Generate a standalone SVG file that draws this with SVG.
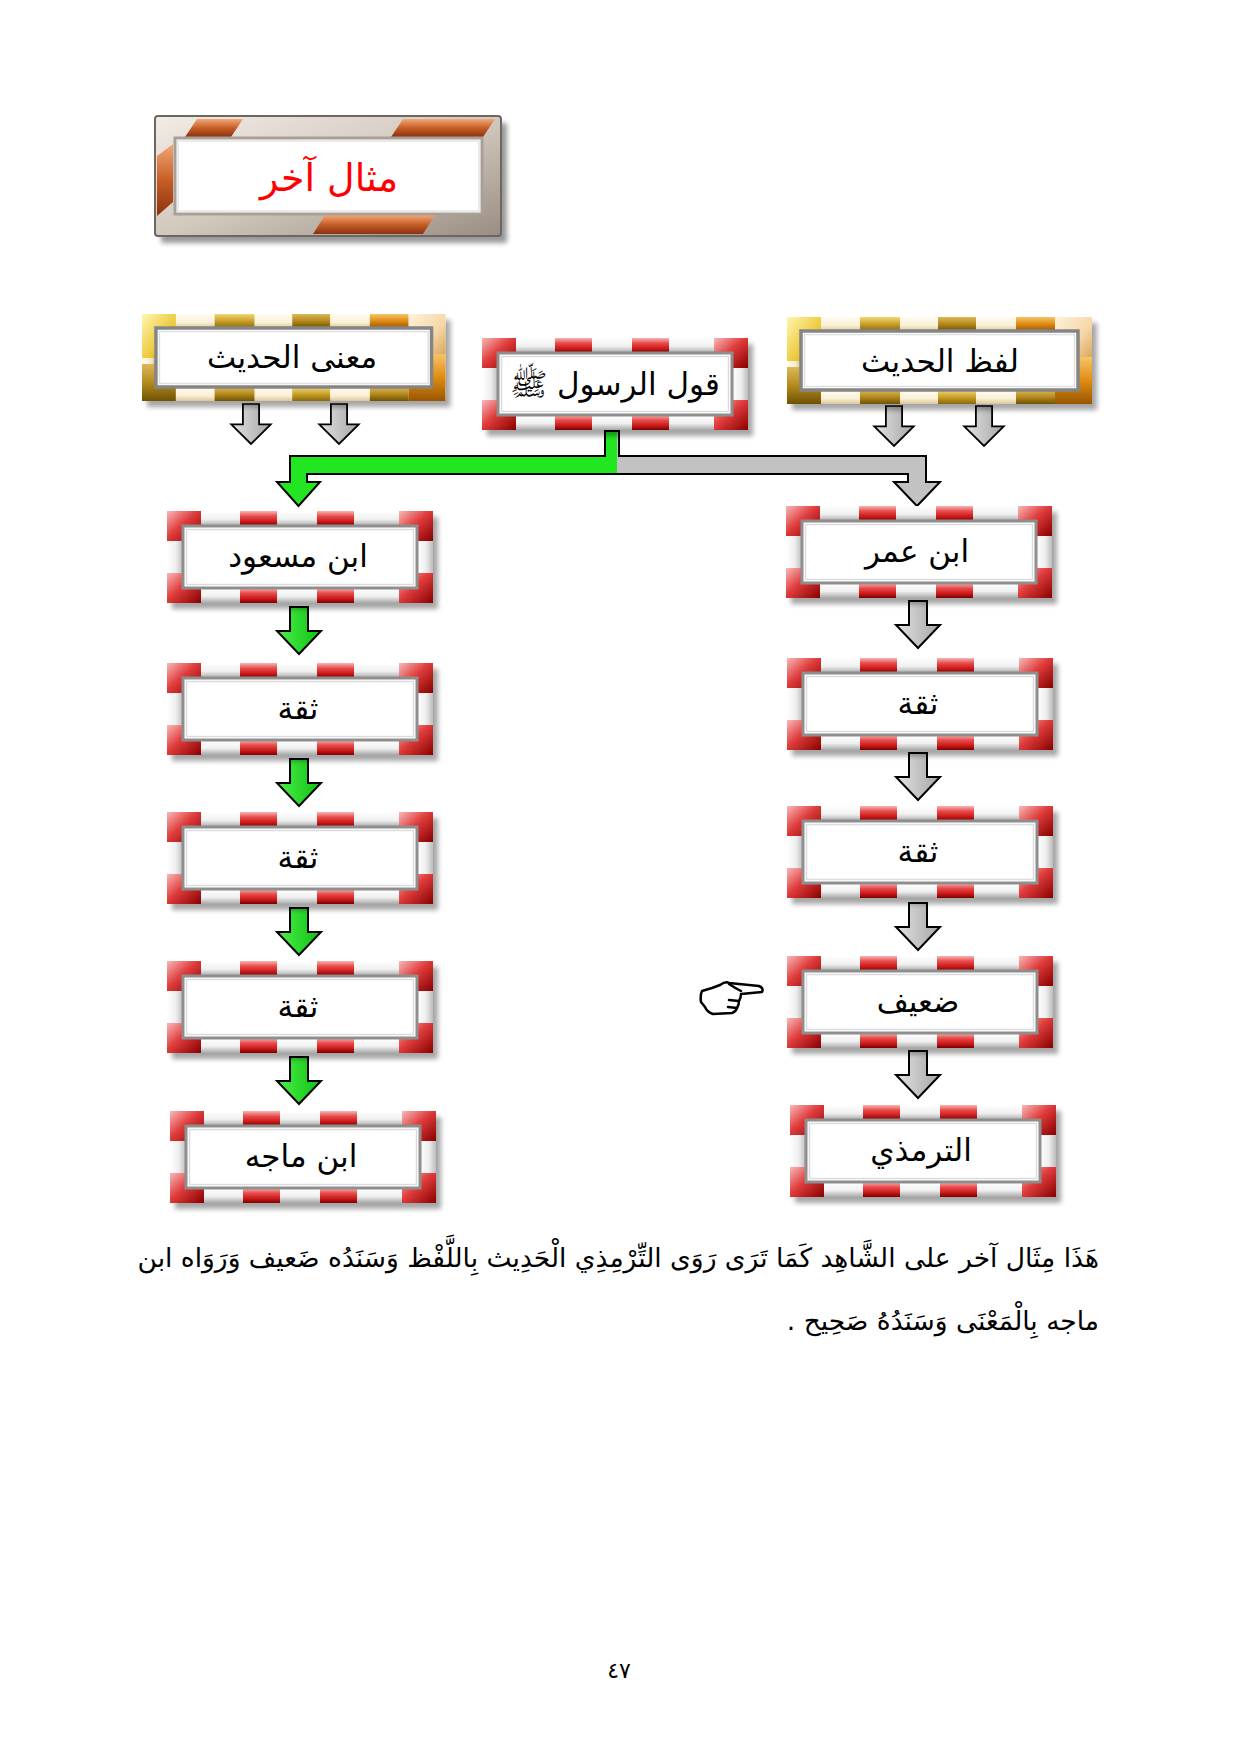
<svg xmlns="http://www.w3.org/2000/svg" xmlns:xlink="http://www.w3.org/1999/xlink" width="1240" height="1754" viewBox="0 0 1240 1754">
<style>
.lbl{font-family:"DejaVu Sans",sans-serif;font-size:31px;fill:#000;text-anchor:middle}
.para{font-family:"DejaVu Sans",sans-serif;font-size:26.5px;fill:#000}
.arw{stroke:#000;stroke-width:2;stroke-linejoin:miter}
</style>
<defs>
<filter id="sh" x="-10%" y="-15%" width="130%" height="140%"><feGaussianBlur stdDeviation="2.5"/></filter>
<linearGradient id="rv" x1="0" y1="0" x2="0" y2="1"><stop offset="0" stop-color="#f9b4b4"/><stop offset=".35" stop-color="#e84a4a"/><stop offset=".7" stop-color="#cc1a1a"/><stop offset="1" stop-color="#7a0000"/></linearGradient>
<linearGradient id="rc" x1="0" y1="0" x2="1" y2="1"><stop offset="0" stop-color="#f8b8b8"/><stop offset=".45" stop-color="#e03c3c"/><stop offset="1" stop-color="#880000"/></linearGradient>
<linearGradient id="wv" x1="0" y1="0" x2="0" y2="1"><stop offset="0" stop-color="#ffffff"/><stop offset=".55" stop-color="#f0f0f0"/><stop offset="1" stop-color="#a8a8a8"/></linearGradient>
<linearGradient id="wh" x1="0" y1="0" x2="1" y2="0"><stop offset="0" stop-color="#ffffff"/><stop offset=".55" stop-color="#eeeeee"/><stop offset="1" stop-color="#bcbcbc"/></linearGradient>
<linearGradient id="cv" x1="0" y1="0" x2="0" y2="1"><stop offset="0" stop-color="#fffbf2"/><stop offset=".6" stop-color="#fbf0d6"/><stop offset="1" stop-color="#d9c69a"/></linearGradient>
<linearGradient id="ch" x1="0" y1="0" x2="1" y2="0"><stop offset="0" stop-color="#fffbf2"/><stop offset=".6" stop-color="#f7ead0"/><stop offset="1" stop-color="#d6c293"/></linearGradient>
<linearGradient id="gg" x1="0" y1="0" x2="0" y2="1"><stop offset="0" stop-color="#f2d774"/><stop offset=".5" stop-color="#caa02a"/><stop offset="1" stop-color="#8a6808"/></linearGradient>
<linearGradient id="gd" x1="0" y1="0" x2="0" y2="1"><stop offset="0" stop-color="#dcb85a"/><stop offset=".5" stop-color="#b48a1c"/><stop offset="1" stop-color="#6e5204"/></linearGradient>
<linearGradient id="go" x1="0" y1="0" x2="0" y2="1"><stop offset="0" stop-color="#f7c468"/><stop offset=".5" stop-color="#e08c14"/><stop offset="1" stop-color="#985600"/></linearGradient>
<linearGradient id="gy" x1="0" y1="0" x2="1" y2="1"><stop offset="0" stop-color="#fff6b0"/><stop offset=".6" stop-color="#ecc838"/><stop offset="1" stop-color="#b08a10"/></linearGradient>
<linearGradient id="gc" x1="0" y1="0" x2="1" y2="1"><stop offset="0" stop-color="#fff2dc"/><stop offset=".6" stop-color="#f5d6a6"/><stop offset="1" stop-color="#d8a860"/></linearGradient>
<linearGradient id="sv" x1="0" y1="0" x2="1" y2="1"><stop offset="0" stop-color="#f2ece6"/><stop offset=".5" stop-color="#d2c8be"/><stop offset="1" stop-color="#9a8e84"/></linearGradient>
<linearGradient id="cu" x1="0" y1="0" x2="0" y2="1"><stop offset="0" stop-color="#f0a878"/><stop offset=".5" stop-color="#c85e26"/><stop offset="1" stop-color="#8a3210"/></linearGradient>
<linearGradient id="ag" x1="0" y1="0" x2="1" y2="0"><stop offset="0" stop-color="#e2e2e2"/><stop offset="1" stop-color="#a6a6a6"/></linearGradient>
<linearGradient id="agr" x1="0" y1="0" x2="1" y2="0"><stop offset="0" stop-color="#4cf04c"/><stop offset="1" stop-color="#10c010"/></linearGradient>
<linearGradient id="cg" gradientUnits="userSpaceOnUse" x1="290" y1="0" x2="926" y2="0"><stop offset="0" stop-color="#22e622"/><stop offset=".514" stop-color="#22e622"/><stop offset=".514" stop-color="#c2c2c2"/><stop offset="1" stop-color="#c2c2c2"/></linearGradient>
<path id="ar" d="M-9,0 H9 V24 H22 L0,47 L-22,24 H-9 Z"/>

<g id="rf">
<rect x="5" y="6" width="266" height="92" fill="#000" opacity=".35" filter="url(#sh)"/>
<rect x="0" y="0" width="266" height="92" fill="#f4f4f4"/>
<rect x="0" y="0" width="266" height="15" fill="url(#wv)"/>
<rect x="0" y="77" width="266" height="15" fill="url(#wv)"/>
<rect x="0" y="15" width="16" height="62" fill="url(#wh)"/>
<rect x="250" y="15" width="16" height="62" fill="url(#wh)"/>
<rect x="73" y="0" width="37" height="15" fill="url(#rv)"/>
<rect x="150" y="0" width="37" height="15" fill="url(#rv)"/>
<rect x="73" y="77" width="37" height="15" fill="url(#rv)"/>
<rect x="150" y="77" width="37" height="15" fill="url(#rv)"/>
<path d="M0,0 H34 V15 H16 V30 H0 Z" fill="url(#rc)"/>
<path d="M232,0 H266 V30 H250 V15 H232 Z" fill="url(#rc)"/>
<path d="M0,62 H16 V77 H34 V92 H0 Z" fill="url(#rc)"/>
<path d="M250,62 H266 V92 H232 V77 H250 Z" fill="url(#rc)"/>
<rect x="16" y="15" width="234" height="62" fill="#fff" stroke="#8e8e8e" stroke-width="3"/>
<rect x="19.5" y="18.5" width="227" height="55" fill="none" stroke="#dcdcdc" stroke-width="1.5"/>
</g>

<g id="gf">
<rect x="5" y="6" width="305" height="87" fill="#000" opacity=".35" filter="url(#sh)"/>
<rect x="0" y="0" width="305" height="87" fill="#faf0d8"/>
<rect x="0" y="0" width="305" height="14" fill="url(#cv)"/>
<rect x="0" y="73" width="305" height="14" fill="url(#cv)"/>
<rect x="0" y="14" width="14" height="59" fill="url(#ch)"/>
<rect x="291" y="14" width="14" height="59" fill="url(#ch)"/>
<rect x="73" y="0" width="40" height="14" fill="url(#gg)"/>
<rect x="151" y="0" width="38" height="14" fill="url(#gd)"/>
<rect x="229" y="0" width="39" height="14" fill="url(#go)"/>
<rect x="73" y="73" width="40" height="14" fill="url(#gd)"/>
<rect x="151" y="73" width="38" height="14" fill="url(#gg)"/>
<rect x="229" y="73" width="39" height="14" fill="url(#gd)"/>
<path d="M0,0 H34 V14 H14 V44 H0 Z" fill="url(#gy)"/>
<path d="M268,0 H305 V40 H291 V14 H268 Z" fill="url(#gc)"/>
<path d="M0,50 H14 V73 H34 V87 H0 Z" fill="url(#gd)"/>
<path d="M291,40 H305 V87 H268 V73 H291 Z" fill="url(#go)"/>
<rect x="14" y="14" width="277" height="59" fill="#fff" stroke="#858585" stroke-width="3.5"/>
<rect x="17.5" y="17.5" width="270" height="52" fill="none" stroke="#e0e0e0" stroke-width="1.5"/>
</g>
</defs>

<rect width="1240" height="1754" fill="#fff"/>

<g id="title">
<rect x="161" y="123" width="346" height="120" fill="#000" opacity=".4" filter="url(#sh)"/>
<rect x="155" y="116" width="346" height="120" rx="3" fill="url(#sv)" stroke="#6e6660" stroke-width="2"/>
<polygon points="197,119 243,119 231,137 185,137" fill="url(#cu)"/>
<polygon points="403,119 495,119 483,137 391,137" fill="url(#cu)"/>
<polygon points="325,215 435,215 423,234 313,234" fill="url(#cu)"/>
<polygon points="157,156 173,144 173,202 157,216" fill="url(#cu)"/>
<rect x="175" y="138" width="307" height="76" fill="#fff" stroke="#a8a098" stroke-width="3"/>
<rect x="178" y="141" width="301" height="70" fill="none" stroke="#e6e2de" stroke-width="1.5"/>
<text x="329" y="191" style="font-family:'DejaVu Sans',sans-serif;font-size:38px;fill:#ff0000;text-anchor:middle">مثال آخر</text>
</g>

<g id="connectors">
<path class="arw" d="M605,431 V456 H290 V482 H277 L298.5,506 L320,482 H307 V474 H908 V482 H894 L917,506 L940,482 H926 V456 H619 V431 Z" fill="url(#cg)"/>
<use href="#ar" class="arw" fill="url(#ag)" transform="translate(251,404) scale(0.9,0.85)"/>
<use href="#ar" class="arw" fill="url(#ag)" transform="translate(339,404) scale(0.9,0.85)"/>
<use href="#ar" class="arw" fill="url(#ag)" transform="translate(894,406) scale(0.9,0.85)"/>
<use href="#ar" class="arw" fill="url(#ag)" transform="translate(984,406) scale(0.9,0.85)"/>
<use href="#ar" class="arw" fill="url(#agr)" transform="translate(299,607)"/>
<use href="#ar" class="arw" fill="url(#agr)" transform="translate(299,759)"/>
<use href="#ar" class="arw" fill="url(#agr)" transform="translate(299,908)"/>
<use href="#ar" class="arw" fill="url(#agr)" transform="translate(299,1057)"/>
<use href="#ar" class="arw" fill="url(#ag)" transform="translate(918,601)"/>
<use href="#ar" class="arw" fill="url(#ag)" transform="translate(918,753)"/>
<use href="#ar" class="arw" fill="url(#ag)" transform="translate(918,903)"/>
<use href="#ar" class="arw" fill="url(#ag)" transform="translate(918,1051)"/>
</g>

<g id="n-maana"><use href="#gf" transform="translate(142,314) scale(0.995,1)"/><text class="lbl" x="292" y="368">معنى الحديث</text></g>
<g id="n-qawl"><use href="#rf" transform="translate(482,338)"/><text class="lbl" x="615" y="395">قول الرسول ﷺ</text></g>
<g id="n-lafz"><use href="#gf" transform="translate(787,317)"/><text class="lbl" x="940" y="372">لفظ الحديث</text></g>

<g id="n-ibnmasud"><use href="#rf" transform="translate(167,511)"/><text class="lbl" x="298" y="567">ابن مسعود</text></g>
<g id="n-l1"><use href="#rf" transform="translate(167,663)"/><text class="lbl" x="298" y="719">ثقة</text></g>
<g id="n-l2"><use href="#rf" transform="translate(167,812)"/><text class="lbl" x="298" y="868">ثقة</text></g>
<g id="n-l3"><use href="#rf" transform="translate(167,961)"/><text class="lbl" x="298" y="1017">ثقة</text></g>
<g id="n-ibnmajah"><use href="#rf" transform="translate(170,1111)"/><text class="lbl" x="301" y="1167">ابن ماجه</text></g>

<g id="n-ibnumar"><use href="#rf" transform="translate(786,506)"/><text class="lbl" x="917" y="562">ابن عمر</text></g>
<g id="n-r1"><use href="#rf" transform="translate(787,658)"/><text class="lbl" x="918" y="714">ثقة</text></g>
<g id="n-r2"><use href="#rf" transform="translate(787,806)"/><text class="lbl" x="918" y="862">ثقة</text></g>
<g id="n-daif"><use href="#rf" transform="translate(787,956)"/><text class="lbl" x="918" y="1012">ضعيف</text></g>
<g id="n-tirmidhi"><use href="#rf" transform="translate(790,1105)"/><text class="lbl" x="921" y="1161">الترمذي</text></g>

<g id="hand" fill="#fff" stroke="#000" stroke-width="2.5" stroke-linejoin="round" stroke-linecap="round">
<path d="M720,985 Q726,981 729,983 L759,986 Q764,988 762,992 L741,994 Q741,998 739,1001 Q739,1005 737,1008 Q736,1012 732,1013 L713,1014 Q707,1012 705,1007 L701,1002 Q700,995 702,991 L712,988 Z"/>
<path d="M729,984 Q735,988 741,991" fill="none"/>
<path d="M729,1000 L739,1001 M728,1007 L737,1008" fill="none"/>
</g>

<g id="paragraph">
<text class="para" x="1099" y="1267" direction="rtl" style="text-anchor:start">هَذَا مِثَال آخر على الشَّاهِد كَمَا تَرَى رَوَى التِّرْمِذِي الْحَدِيث بِاللَّفْظ وَسَنَدُه ضَعيف وَرَوَاه ابن</text>
<text class="para" x="1099" y="1330" direction="rtl" style="text-anchor:start">ماجه بِالْمَعْنَى وَسَنَدُهُ صَحِيح .</text>
</g>

<text x="619" y="1678" style="font-family:'DejaVu Sans',sans-serif;font-size:22px;fill:#000;text-anchor:middle">٤٧</text>
</svg>
